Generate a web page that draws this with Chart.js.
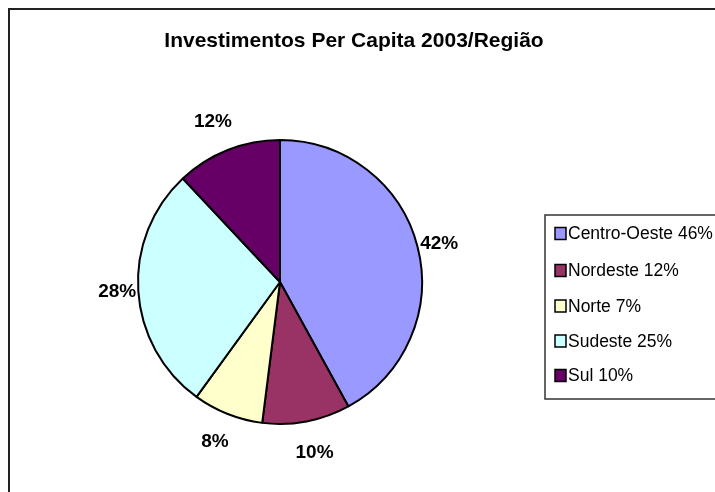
<!DOCTYPE html>
<html>
<head>
<meta charset="utf-8">
<script src="https://cdn.jsdelivr.net/npm/chart.js@4"></script>
<style>
  html, body { margin: 0; padding: 0; background: #fff; }
  #wrap { width: 715px; height: 492px; }
</style>
</head>
<body>
<div id="wrap"><canvas id="chart-pie" width="715" height="492"></canvas></div>
<script>
// regioes e valores
const regioes = ['Centro-Oeste', 'Nordeste', 'Norte', 'Sudeste', 'Sul'];
const fatias = [42, 10, 8, 28, 12];          // % mostrados nas fatias
const legendaPct = ['46%', '12%', '7%', '25%', '10%']; // % escritos na legenda
const cores = ['#9999ff', '#993366', '#ffffcc', '#ccffff', '#660066'];
const titulo = 'Investimentos Per Capita 2003/Região';

const FONT = '"Liberation Sans", Arial, sans-serif';

// moldura externa + fundo + titulo
// (o titulo do Chart.js encolhe o texto para caber entre os paddings, por isso vai aqui)
const moldura = {
    id: 'moldura',
    beforeDraw(chart) {
        const ctx = chart.ctx;
        ctx.save();
        ctx.fillStyle = '#fff';
        ctx.fillRect(0, 0, chart.width, chart.height);
        ctx.strokeStyle = '#222';
        ctx.lineWidth = 2;
        ctx.beginPath();
        ctx.moveTo(9, chart.height + 2);
        ctx.lineTo(9, 9);
        ctx.lineTo(chart.width + 2, 9);
        ctx.stroke();
        ctx.font = 'bold 21px ' + FONT;
        ctx.fillStyle = '#000';
        ctx.textAlign = 'center';
        ctx.textBaseline = 'middle';
        ctx.fillText(titulo, 354, 41);
        ctx.restore();
    },
};

// rotulos de % fora das fatias
const rotulos = {
    id: 'rotulos',
    afterDatasetsDraw(chart) {
        const ctx = chart.ctx;
        const arcs = chart.getDatasetMeta(0).data;
        ctx.save();
        ctx.font = 'bold 19px ' + FONT;
        ctx.fillStyle = '#000';
        ctx.textAlign = 'center';
        ctx.textBaseline = 'middle';
        arcs.forEach((arc, i) => {
            const { x, y, startAngle, endAngle, outerRadius } = arc.getProps(['x', 'y', 'startAngle', 'endAngle', 'outerRadius']);
            const mid = (startAngle + endAngle) / 2;
            const dx = Math.cos(mid), dy = Math.sin(mid);
            const txt = fatias[i] + '%';
            const hw = ctx.measureText(txt).width / 2, hh = 9;
            const r = outerRadius + 2 + 22 * dy * dy;
            ctx.fillText(txt, x + dx * r + dx * hw, y + dy * r + dy * hh);
        });
        ctx.restore();
    },
};

// legenda com caixa, no estilo do original
const legenda = {
    id: 'legenda',
    afterDraw(chart) {
        const ctx = chart.ctx;
        ctx.save();
        ctx.strokeStyle = '#333';
        ctx.lineWidth = 1.5;
        ctx.strokeRect(545, 215, 220, 184);
        ctx.font = '17.5px ' + FONT;
        ctx.textBaseline = 'middle';
        ctx.textAlign = 'left';
        const ys = [233.5, 270.5, 306, 341, 375.5];
        regioes.forEach((nome, i) => {
            ctx.fillStyle = cores[i];
            ctx.fillRect(555, ys[i] - 6, 11, 12);
            ctx.strokeStyle = '#000';
            ctx.lineWidth = 1.5;
            ctx.strokeRect(555, ys[i] - 6, 11, 12);
            ctx.fillStyle = '#000';
            ctx.fillText(nome + ' ' + legendaPct[i], 568, ys[i] + 1);
        });
        ctx.restore();
    },
};

new Chart(document.getElementById('chart-pie'), {
    type: 'pie',
    data: {
        labels: regioes,
        datasets: [{
            data: fatias,
            backgroundColor: cores,
            borderColor: '#000',
            borderWidth: 2,
        }],
    },
    options: {
        responsive: false,
        animation: false,
        layout: { padding: { left: 137, right: 292, top: 139, bottom: 67 } },
        plugins: {
            legend: { display: false },
            tooltip: { enabled: false },
            title: { display: false },
        },
    },
    plugins: [moldura, rotulos, legenda],
});
</script>
</body>
</html>
